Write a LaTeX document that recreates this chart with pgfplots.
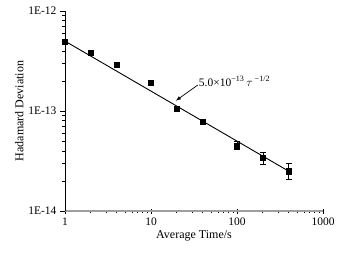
\documentclass[border=0pt]{standalone}
\usepackage{fontspec}
\setmainfont{Liberation Serif}
\usepackage{pgfplots}
\pgfplotsset{compat=1.18}
\begin{document}
\begin{tikzpicture}[x=1pt,y=1pt]
\begin{axis}[
  at={(0,0)}, anchor=south west,
  scale only axis, width=258pt, height=200pt,
  xmode=log, ymode=log,
  xmin=1, xmax=1000, ymin=1e-14, ymax=1e-12,
  axis x line*=bottom, axis y line*=left,
  x axis line style={gray!75, line width=1.3pt},
  y axis line style={black, line width=0.8pt},
  xtick={1,10,100,1000}, xticklabels={1,10,100,1000},
  minor xtick={2,3,4,5,6,7,8,9,20,30,40,50,60,70,80,90,200,300,400,500,600,700,800,900},
  ytick={1e-14,1e-13,1e-12}, yticklabels={1E-14,1E-13,1E-12},
  minor ytick={2e-14,3e-14,4e-14,5e-14,6e-14,7e-14,8e-14,9e-14,2e-13,3e-13,4e-13,5e-13,6e-13,7e-13,8e-13,9e-13},
  x tick style={black, line width=0.8pt}, y tick style={black, line width=0.6pt},
  xtick align=center, ytick align=outside,
  major tick length=5pt, minor tick length=3pt,
  tick label style={font=\fontsize{11.5}{13}\selectfont},
  xticklabel style={yshift=-1pt},
  label style={font=\fontsize{12}{14}\selectfont},
  xlabel={Average Time/s}, ylabel={Hadamard Deviation},
  xlabel style={yshift=2pt},
  ylabel style={yshift=-2pt},
  clip=false,
]
\addplot[black, line width=0.9pt, no marks] coordinates {(1,5e-13) (400,2.5e-14)};
\addplot[black, only marks, mark=square*, mark size=2.6pt,
  error bars/.cd, y dir=both, y explicit,
  error bar style={black, line width=0.7pt},
  error mark options={rotate=90, mark size=3pt, line width=0.7pt}]
  coordinates {
  (1,4.9e-13)
  (2,3.8e-13)
  (4,2.9e-13)
  (10,1.93e-13)
  (20,1.05e-13)
  (40,7.8e-14)
  (100,4.5e-14) += (0,0.43e-14) -= (0,0.4e-14)
  (200,3.4e-14) += (0,0.5e-14) -= (0,0.44e-14)
  (400,2.5e-14) += (0,0.5e-14) -= (0,0.42e-14)
  };
\draw[-latex, line width=0.7pt] (axis cs:35,1.82e-13) -- (axis cs:19.5,1.27e-13);
\node[anchor=south west, inner sep=1pt, font=\fontsize{11.5}{13}\selectfont] at (axis cs:35,1.72e-13)
  {5.0×10\textsuperscript{−13}\,$\tau$\,\textsuperscript{−1/2}};
\end{axis}
\pgfresetboundingbox
\useasboundingbox (-65,-46) rectangle (277,211);
\end{tikzpicture}
\end{document}
